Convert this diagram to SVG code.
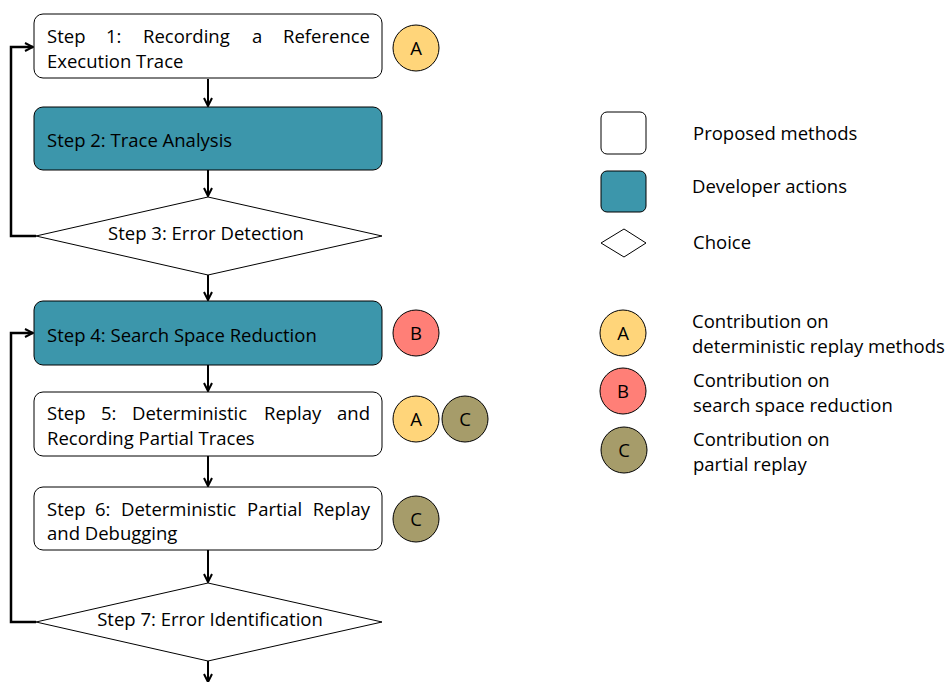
<svg xmlns="http://www.w3.org/2000/svg" width="947" height="682" viewBox="0 0 947 682">
<style>
text{font-family:"Open Sans","Liberation Sans",sans-serif;font-size:18.5px;fill:#000}
.prop{fill:#fff;stroke:#000;stroke-width:1}
.dev{fill:#3C96AB;stroke:#000;stroke-width:1}
.dia{fill:#fff;stroke:#000;stroke-width:1}
.ca{fill:#FFD57A;stroke:#000;stroke-width:1}
.cb{fill:#FF7F77;stroke:#000;stroke-width:1}
.cc{fill:#A69C6A;stroke:#000;stroke-width:1}
.lbl{text-anchor:middle}
.conn{fill:none;stroke:#000;stroke-width:2}
.loop{fill:none;stroke:#000;stroke-width:2.5}
</style>
<defs>
<marker id="ah" viewBox="0 0 10 10" refX="9" refY="5" markerWidth="10" markerHeight="10" markerUnits="userSpaceOnUse" orient="auto">
<path d="M1,1 L9,5 L1,9" fill="none" stroke="#000" stroke-width="2"/>
</marker>
</defs>
<rect width="947" height="682" fill="#fff"/>
<g id="connectors">
<line class="conn" x1="208" y1="79" x2="208" y2="106" marker-end="url(#ah)"/>
<line class="conn" x1="208" y1="170" x2="208" y2="196" marker-end="url(#ah)"/>
<line class="conn" x1="208" y1="275" x2="208" y2="300" marker-end="url(#ah)"/>
<line class="conn" x1="208" y1="365" x2="208" y2="391" marker-end="url(#ah)"/>
<line class="conn" x1="208" y1="456" x2="208" y2="486" marker-end="url(#ah)"/>
<line class="conn" x1="208" y1="550" x2="208" y2="582" marker-end="url(#ah)"/>
<line class="conn" x1="208" y1="661" x2="208" y2="682" marker-end="url(#ah)"/>
<polyline class="loop" points="36,236 11,236 11,47 33,47" marker-end="url(#ah)"/>
<polyline class="loop" points="36,622 11,622 11,333 33,333" marker-end="url(#ah)"/>
</g>
<g id="step1">
<rect class="prop" x="34" y="14" width="348" height="64" rx="9"/>
<text y="43"><tspan x="47">Step</tspan><tspan x="106">1:</tspan><tspan x="143">Recording</tspan><tspan x="252">a</tspan><tspan x="370" text-anchor="end">Reference</tspan></text>
<text x="47" y="68">Execution Trace</text>
</g>
<g id="step2">
<rect class="dev" x="34" y="107" width="348" height="63" rx="9"/>
<text x="47" y="147">Step 2: Trace Analysis</text>
</g>
<g id="step3">
<polygon class="dia" points="208,197 382,236 208,275 36,236"/>
<text class="lbl" x="206" y="240">Step 3: Error Detection</text>
</g>
<g id="step4">
<rect class="dev" x="34" y="301" width="348" height="64" rx="9"/>
<text x="47" y="342">Step 4: Search Space Reduction</text>
</g>
<g id="step5">
<rect class="prop" x="34" y="392" width="348" height="64" rx="9"/>
<text y="420"><tspan x="47">Step</tspan><tspan x="101">5:</tspan><tspan x="132">Deterministic</tspan><tspan x="264">Replay</tspan><tspan x="370" text-anchor="end">and</tspan></text>
<text x="47" y="445">Recording Partial Traces</text>
</g>
<g id="step6">
<rect class="prop" x="34" y="487" width="348" height="63" rx="9"/>
<text y="516"><tspan x="47">Step</tspan><tspan x="95">6:</tspan><tspan x="121">Deterministic</tspan><tspan x="247">Partial</tspan><tspan x="370" text-anchor="end">Replay</tspan></text>
<text x="47" y="540">and Debugging</text>
</g>
<g id="step7">
<polygon class="dia" points="208,583 382,622 208,661 36,622"/>
<text class="lbl" x="210" y="626">Step 7: Error Identification</text>
</g>
<g id="badge1A">
<circle class="ca" cx="416" cy="48" r="23"/>
<text class="lbl" x="416" y="54.5">A</text>
</g>
<g id="badge4B">
<circle class="cb" cx="416" cy="333" r="23"/>
<text class="lbl" x="416" y="339.5">B</text>
</g>
<g id="badge5A">
<circle class="ca" cx="416" cy="419" r="23"/>
<text class="lbl" x="416" y="425.5">A</text>
</g>
<g id="badge5C">
<circle class="cc" cx="465" cy="419" r="23"/>
<text class="lbl" x="465" y="425.5">C</text>
</g>
<g id="badge6C">
<circle class="cc" cx="416" cy="519" r="23"/>
<text class="lbl" x="416" y="525.5">C</text>
</g>
<g id="legend-proposed">
<rect class="prop" x="601" y="112" width="45" height="42" rx="6"/>
<text x="693" y="140">Proposed methods</text>
</g>
<g id="legend-developer">
<rect class="dev" x="601" y="171" width="45" height="41" rx="6"/>
<text x="692" y="193">Developer actions</text>
</g>
<g id="legend-choice">
<polygon class="dia" points="624,229 646,243 624,257 601,243"/>
<text x="693" y="249">Choice</text>
</g>
<g id="legend-A">
<circle class="ca" cx="623" cy="333" r="23"/>
<text class="lbl" x="623" y="339.5">A</text>
<text x="692" y="328">Contribution on</text>
<text x="692" y="353">deterministic replay methods</text>
</g>
<g id="legend-B">
<circle class="cb" cx="623" cy="391" r="23"/>
<text class="lbl" x="623" y="397.5">B</text>
<text x="693" y="387">Contribution on</text>
<text x="693" y="412">search space reduction</text>
</g>
<g id="legend-C">
<circle class="cc" cx="624" cy="450" r="23"/>
<text class="lbl" x="624" y="456.5">C</text>
<text x="693" y="446">Contribution on</text>
<text x="693" y="471">partial replay</text>
</g>
</svg>
